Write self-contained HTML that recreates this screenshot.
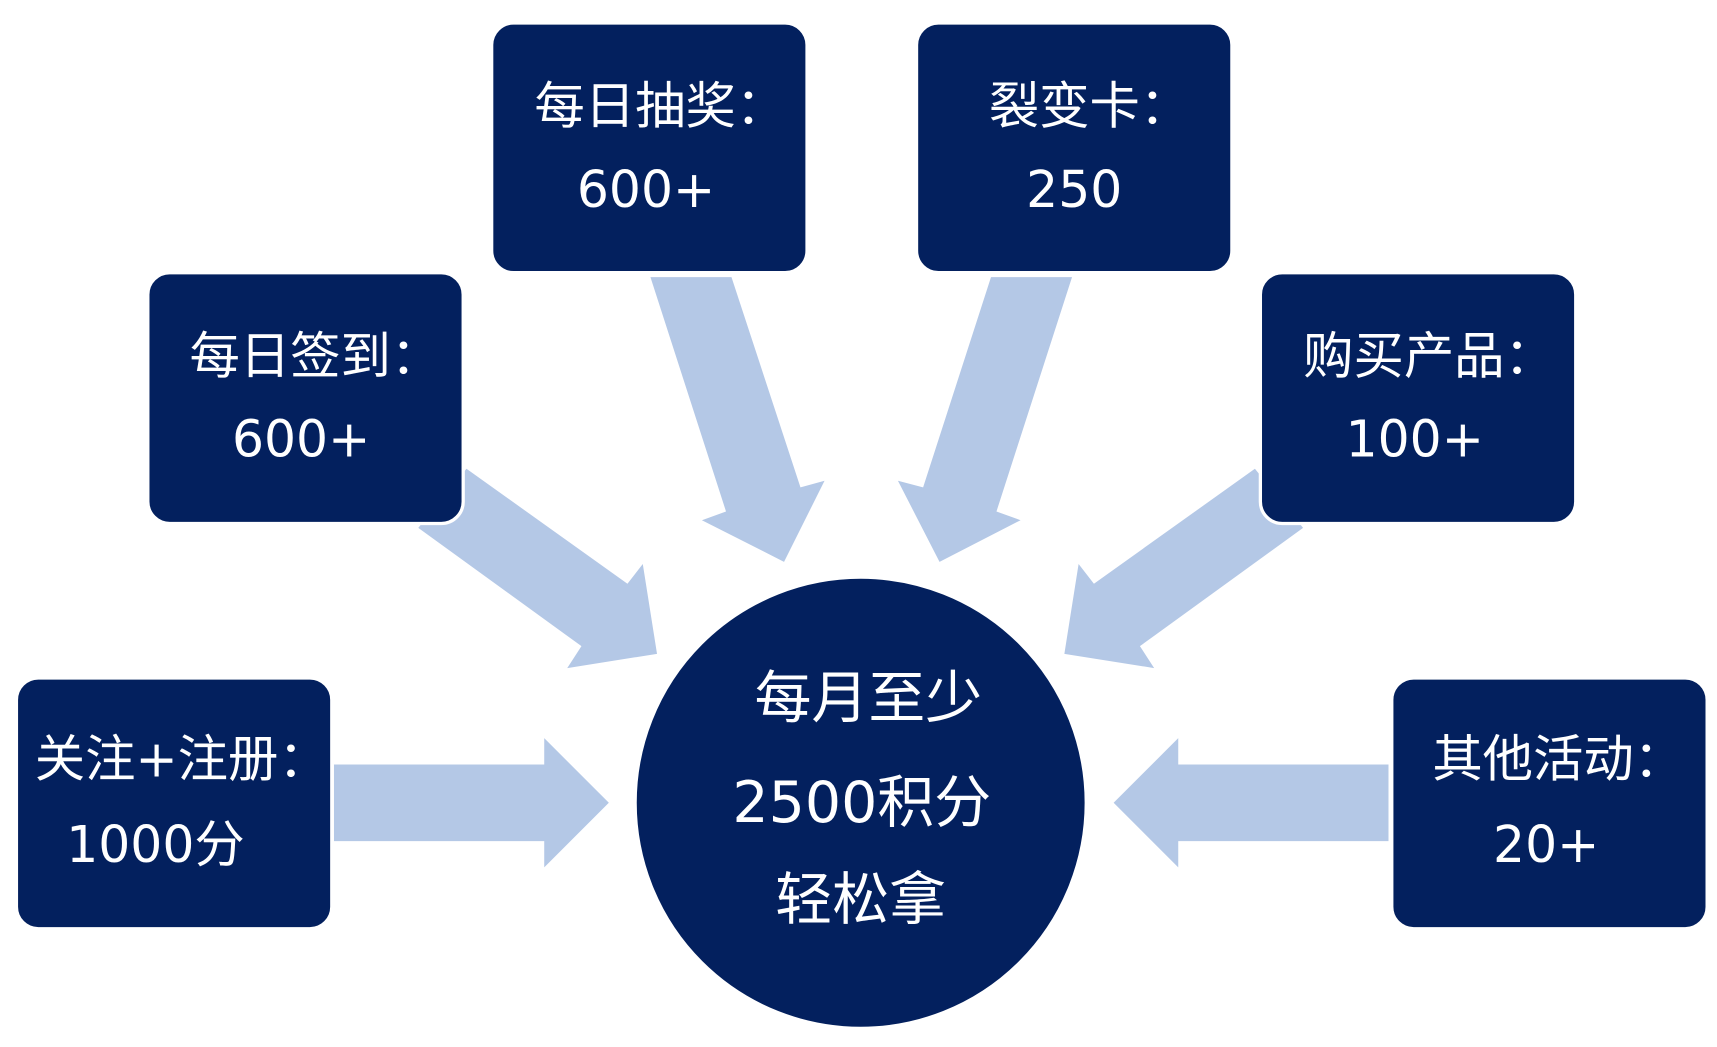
<!DOCTYPE html>
<html><head><meta charset="utf-8"><style>
html,body{margin:0;padding:0;background:#fff;width:1717px;height:1047px;overflow:hidden}
svg{display:block}
text{font-family:"DejaVu Sans","Noto Sans CJK SC",sans-serif;fill:#fff;text-anchor:middle;dominant-baseline:central}
</style></head><body>
<svg width="1717" height="1047" viewBox="0 0 1568 956" preserveAspectRatio="none">
<g fill="#b4c8e6">
<polygon points="305,698 497,698 497,674 556,733 497,792 497,768 305,768"/>
<polygon points="1268,698 1076,698 1076,674 1017,733 1076,792 1076,768 1268,768"/>
<polygon points="594,253 668,253 731,445 753,439 716,513 641,475 663,467"/>
<polygon points="905,253 979,253 910,467 932,475 858,513 820,439 843,445"/>
<polygon points="426,428 573,533 587,515 600,597 518,610 531,590 382,482"/>
<polygon points="1146,428 999,533 985,515 972,597 1054,610 1041,590 1190,482"/>
</g>
<g fill="#03205e" stroke="#fff" stroke-width="3">
<rect x="449" y="21" width="288" height="228" rx="20"/>
<rect x="837" y="21" width="288" height="228" rx="20"/>
<rect x="135" y="249" width="288" height="229" rx="20"/>
<rect x="1151" y="249" width="288" height="229" rx="20"/>
<rect x="15" y="619" width="288" height="229" rx="20"/>
<rect x="1271" y="619" width="288" height="229" rx="20"/>
<circle cx="786" cy="733" r="206"/>
</g>
<g font-size="46">
<text x="603" y="97">每日抽奖：</text><text x="590" y="173">600+</text>
<text x="995" y="97">裂变卡：</text><text x="981" y="173">250</text>
<text x="288" y="325">每日签到：</text><text x="275" y="401">600+</text>
<text x="1305" y="325">购买产品：</text><text x="1292" y="401">100+</text>
<text x="166" y="693">关注+注册：</text><text x="142" y="771">1000分</text>
<text x="1423" y="693">其他活动：</text><text x="1412" y="771">20+</text>
</g>
<g font-size="52">
<text x="793" y="638">每月至少</text>
<text x="787" y="733">2500积分</text>
<text x="786" y="822">轻松拿</text>
</g>
</svg>
</body></html>
